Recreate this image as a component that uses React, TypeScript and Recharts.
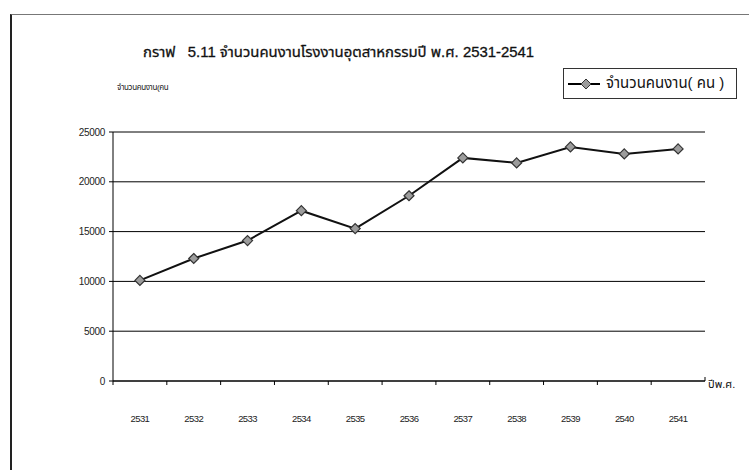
import { LineChart, Line, XAxis, YAxis, CartesianGrid, Legend } from 'recharts';

const years = ['2531', '2532', '2533', '2534', '2535', '2536', '2537', '2538', '2539', '2540', '2541'];
const workers = [10100, 12300, 14100, 17100, 15300, 18600, 22400, 21900, 23500, 22800, 23300];
const yTicks = [0, 5000, 10000, 15000, 20000, 25000];

const title = 'กราฟ   5.11 จำนวนคนงานโรงงานอุตสาหกรรมปี พ.ศ. 2531-2541';
const seriesName = 'จำนวนคนงาน( คน )';
const yLabel = 'จำนวนคนงาน(คน';
const xLabel = 'ปีพ.ศ.';

const data = years.map((y, i) => ({ year: y, workers: workers[i] }));

const W = 749;
const H = 470;
const PLOT_W = 592;
const HALF_BAND = PLOT_W / years.length / 2;
const thaiFont = 'Arial, "Liberation Sans", "Noto Sans Thai", "Noto Sans", sans-serif';
const tickFont = '"Liberation Sans Narrow", Arial, sans-serif';

const Diamond = (props: any) => {
    const { cx, cy } = props;
    if (cx == null || cy == null) return null;
    const r = 5;
    return (
        <polygon
            points={`${cx},${cy - r} ${cx + r},${cy} ${cx},${cy + r} ${cx - r},${cy}`}
            fill="#9c9c9c"
            stroke="#333"
            strokeWidth={1.2}
        />
    );
};

const XTick = (props: any) => {
    const { x, y, payload, index } = props;
    const last = index === years.length - 1;
    return (
        <g>
            <line x1={x - HALF_BAND} y1={y} x2={x - HALF_BAND} y2={y + 4} stroke="#000" />
            {last && <line x1={x + HALF_BAND} y1={y} x2={x + HALF_BAND} y2={y - 4} stroke="#000" />}
            <text x={x} y={y + 41} textAnchor="middle" fontSize={9.5} fontFamily={tickFont} fill="#222" letterSpacing={-0.6}>
                {payload.value}
            </text>
        </g>
    );
};

const renderLegend = () => (
    <div
        style={{
            width: 172,
            height: 29,
            border: '1px solid #333',
            background: '#fff',
            display: 'flex',
            alignItems: 'center',
            fontFamily: thaiFont,
            fontSize: 15,
            color: '#111',
            whiteSpace: 'nowrap',
        }}
    >
        <svg width={38} height={14} style={{ marginLeft: 4, flexShrink: 0 }}>
            <line x1={0} y1={7} x2={32} y2={7} stroke="#000" strokeWidth={2} />
            <polygon points="18,2 23,7 18,12 13,7" fill="#9c9c9c" stroke="#333" />
        </svg>
        <span>{seriesName}</span>
    </div>
);

export default function App() {
    return (
        <div style={{ position: 'fixed', left: 0, top: 0, width: W, height: H, background: '#fff', overflow: 'hidden' }}>
            {/* frame */}
            <div style={{ position: 'absolute', left: 10, top: 14, width: 800, height: 600, borderLeft: '2px solid #222', borderTop: '1px solid #777' }} />
            <div style={{ position: 'absolute', left: 143, top: 41, fontFamily: thaiFont, fontSize: 14.9, color: '#111', whiteSpace: 'pre', WebkitTextStroke: '0.3px #111' }}>
                {title}
            </div>
            <div style={{ position: 'absolute', left: 117, top: 82, fontFamily: thaiFont, fontSize: 8, color: '#222', letterSpacing: -0.4 }}>
                {yLabel}
            </div>
            <div style={{ position: 'absolute', left: 708, top: 376, fontFamily: thaiFont, fontSize: 11, color: '#111' }}>
                {xLabel}
            </div>
            <div style={{ position: 'absolute', left: 0, top: 0 }}>
                <LineChart width={W} height={H} data={data} margin={{ top: 132, right: 44, left: 53, bottom: 59 }}>
                    <CartesianGrid vertical={false} stroke="#000" strokeWidth={1} />
                    <XAxis
                        dataKey="year"
                        height={30}
                        padding={{ left: HALF_BAND, right: HALF_BAND }}
                        axisLine={{ stroke: '#000' }}
                        tickLine={false}
                        tickSize={0}
                        tickMargin={0}
                        interval={0}
                        tick={<XTick />}
                    />
                    <YAxis
                        width={60}
                        domain={[0, 25000]}
                        ticks={yTicks}
                        interval={0}
                        axisLine={{ stroke: '#000' }}
                        tickLine={{ stroke: '#000' }}
                        tickSize={4}
                        tickMargin={4}
                        tick={{ fontSize: 10, fontFamily: tickFont, fill: '#222', letterSpacing: -0.3 }}
                    />
                    <Legend
                        layout="horizontal"
                        verticalAlign="middle"
                        align="center"
                        content={renderLegend}
                        wrapperStyle={{ position: 'absolute', left: 563, top: 68, width: 174, height: 31 }}
                    />
                    <Line
                        type="linear"
                        dataKey="workers"
                        name={seriesName}
                        stroke="#111"
                        strokeWidth={2}
                        dot={<Diamond />}
                        activeDot={false}
                        isAnimationActive={false}
                    />
                </LineChart>
            </div>
        </div>
    );
}
